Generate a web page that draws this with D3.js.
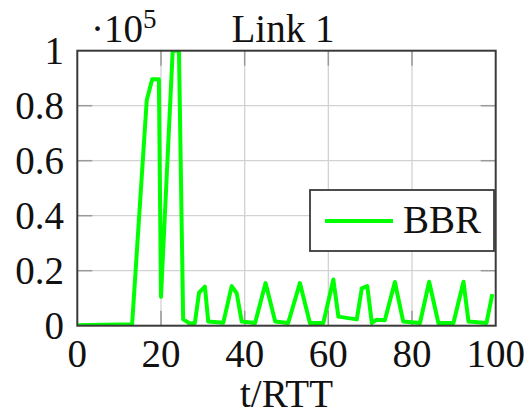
<!DOCTYPE html>
<html>
<head>
<meta charset="utf-8">
<script src="https://cdn.jsdelivr.net/npm/d3@7/dist/d3.min.js"></script>
<style>
  body { margin: 0; background: #fff; }
  text { font-family: "Liberation Serif", "DejaVu Serif", serif; fill: #111; }
</style>
</head>
<body>
<script>
// data (t in RTT, rate in raw units, axis shows x 1e5)
let tValues = [0, 13.1, 16.6, 17.9, 19.5, 20.0, 22.8, 24.3, 25.3, 26.9, 28.1, 29.1, 30.5, 31.3,
    34.9, 36.9, 38.1, 39.3, 42.5, 45.0, 47.3, 50.4, 53.2, 55.6, 58.8, 61.2, 62.4, 66.8,
    68.0, 69.3, 70.4, 71.6, 73.5, 75.9, 77.9, 81.9, 84.1, 86.3, 89.9, 92.3, 93.5, 97.8, 99.2];
let bbrValues = [200, 500, 82000, 89600, 89600, 10500, 100000, 100000, 2300, 800, 1000, 12000, 14200, 1500,
    1100, 14400, 11800, 1500, 1000, 15500, 1500, 1000, 15500, 1000, 1000, 16800, 3300, 2300,
    13600, 14400, 1000, 2200, 2000, 15900, 1500, 1000, 16000, 1000, 1000, 16000, 1500, 1000, 11500];
let xTicks = [0, 20, 40, 60, 80, 100];
let yTicks = [0, 20000, 40000, 60000, 80000, 100000];
let yTickLabels = ["0", "0.2", "0.4", "0.6", "0.8", "1"];
let seriesName = "BBR";
let title = "Link 1";
let xLabel = "t/RTT";

let width = 530, height = 416;
let plotL = 77.3, plotR = 495.7, plotT = 50.7, plotB = 325.7;
let fs = 39;

let svg = d3.select("body").append("svg")
    .attr("width", width).attr("height", height);

let x = d3.scaleLinear().domain([0, 100]).range([plotL, plotR]);
let y = d3.scaleLinear().domain([0, 100000]).range([plotB, plotT]);

// grid
svg.append("g").selectAll("line").data(xTicks.slice(1, -1)).join("line")
    .attr("x1", d => x(d)).attr("x2", d => x(d))
    .attr("y1", plotT).attr("y2", plotB)
    .attr("stroke", "#d2d2d2").attr("stroke-width", 1.3);
svg.append("g").selectAll("line").data(yTicks.slice(1, -1)).join("line")
    .attr("x1", plotL).attr("x2", plotR)
    .attr("y1", d => y(d)).attr("y2", d => y(d))
    .attr("stroke", "#d2d2d2").attr("stroke-width", 1.3);

// inner tick marks on all four sides
let tickLen = 15;
let tk = svg.append("g").attr("stroke", "#9a9a9a").attr("stroke-width", 1.5);
xTicks.slice(1, -1).forEach(d => {
    tk.append("line").attr("x1", x(d)).attr("x2", x(d)).attr("y1", plotB).attr("y2", plotB - tickLen);
    tk.append("line").attr("x1", x(d)).attr("x2", x(d)).attr("y1", plotT).attr("y2", plotT + tickLen);
});
yTicks.slice(1, -1).forEach(d => {
    tk.append("line").attr("y1", y(d)).attr("y2", y(d)).attr("x1", plotL).attr("x2", plotL + tickLen);
    tk.append("line").attr("y1", y(d)).attr("y2", y(d)).attr("x1", plotR).attr("x2", plotR - tickLen);
});

// data line
svg.append("clipPath").attr("id", "plot")
    .append("rect").attr("x", plotL).attr("y", plotT)
    .attr("width", plotR - plotL).attr("height", plotB - plotT);

let line = d3.line()
    .x((d, i) => x(tValues[i]))
    .y(d => y(d));

svg.append("path")
    .attr("clip-path", "url(#plot)")
    .attr("d", line(bbrValues))
    .attr("fill", "none")
    .attr("stroke", "#00ff00")
    .attr("stroke-width", 4)
    .attr("stroke-linejoin", "round");

// axis box
svg.append("rect")
    .attr("x", plotL).attr("y", plotT)
    .attr("width", plotR - plotL).attr("height", plotB - plotT)
    .attr("fill", "none").attr("stroke", "#3a3a3a").attr("stroke-width", 2);

// tick labels
svg.append("g").selectAll("text").data(xTicks).join("text")
    .attr("x", d => x(d)).attr("y", 367)
    .attr("text-anchor", "middle")
    .attr("font-size", fs)
    .text(d => d);

svg.append("g").selectAll("text").data(yTicks).join("text")
    .attr("x", 64).attr("y", d => y(d) + 13.5)
    .attr("text-anchor", "end")
    .attr("font-size", fs)
    .text((d, i) => yTickLabels[i]);

// scale factor ·10^5
let sf = svg.append("text").attr("x", 91).attr("y", 42).attr("font-size", fs);
sf.append("tspan").text("\u00b710");
sf.append("tspan").attr("dy", -14).attr("font-size", 27).text("5");

// title and axis label
svg.append("text").attr("x", 283).attr("y", 42)
    .attr("text-anchor", "middle").attr("font-size", fs).text(title);
svg.append("text").attr("x", (plotL + plotR) / 2).attr("y", 407)
    .attr("text-anchor", "middle").attr("font-size", fs).text(xLabel);

// legend
let lg = svg.append("g");
lg.append("rect").attr("x", 310).attr("y", 190).attr("width", 184).attr("height", 61)
    .attr("fill", "#fff").attr("stroke", "#3a3a3a").attr("stroke-width", 1.8);
lg.append("line").attr("x1", 325).attr("x2", 393).attr("y1", 221).attr("y2", 221)
    .attr("stroke", "#00ff00").attr("stroke-width", 4);
lg.append("text").attr("x", 403).attr("y", 233).attr("font-size", fs).text(seriesName);
</script>
</body>
</html>
